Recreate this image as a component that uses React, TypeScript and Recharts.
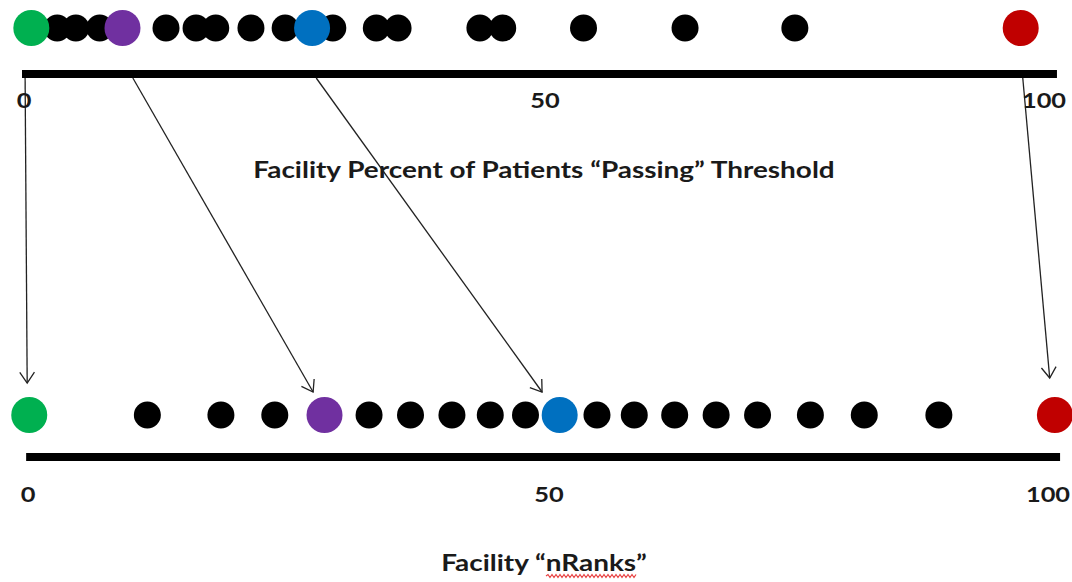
import { Cell, ReferenceLine, Scatter, ScatterChart, XAxis, YAxis } from "recharts";

// x positions of facilities, 0-100 scale
const TICKS = [0, 50, 100];

const PCT_OTHERS = [3.4, 5.2, 7.5, 13.9, 16.8, 18.7, 22.1, 25.4, 30.0, 34.2, 36.3, 44.2, 46.4, 54.2, 64.0, 74.6];
const RANK_OTHERS = [12.1, 19.2, 24.4, 33.5, 37.5, 41.5, 45.2, 48.6, 55.5, 59.1, 63.0, 67.0, 71.0, 76.1, 81.3, 88.5];

// the four tracked facilities
const TRACKED_PCT = [0.9, 9.7, 28.0, 96.4];
const TRACKED_RANK = [0.7, 29.2, 51.9, 99.7];
const ARROW_FROM = [0.3, 10.7, 28.4, 96.6];
const ARROW_TO = [0.5, 28.1, 50.2, 99.2];

const TRACKED_COLORS = ["#00b050", "#7030a0", "#0070c0", "#c00000"];

// layout (y in px from top, via a reversed hidden axis)
const W = 1072;
const H = 582;
const TOP = { dots: 28, axis: 74, ticks: 108, title: 178 };
const BOTTOM = { dots: 415, axis: 457, ticks: 502, title: 571 };
const ARROW_START_Y = 78;
const ARROW_TIP_Y = [383, 392, 392, 378];
const TICK_DX = { top: [2, 5, -14], bottom: [6, 9, -10] };

const FONT = "Lato, 'Open Sans', sans-serif";
const STRETCH = 1.27; // the source text is a bit wide

const row = (xs: number[], y: number) => xs.map((x) => ({ x, y }));

function WideText({ x, y, size, children }: { x: number; y: number; size: number; children: any }) {
  return (
    <text
      transform={`translate(${x},${y}) scale(${STRETCH},1)`}
      textAnchor="middle"
      fontFamily={FONT}
      fontWeight={700}
      fontSize={size}
      fill="#1a1a1a"
    >
      {children}
    </text>
  );
}

function Dot(r: number) {
  return (p: any) => <circle cx={p.cx} cy={p.cy} r={r} fill={p.fill} />;
}

function TickText(dx: number[]) {
  return (p: any) => (
    <WideText x={p.cx + dx[TICKS.indexOf(p.payload.x)]} y={p.cy} size={20}>
      {p.payload.x}
    </WideText>
  );
}

function Arrow(p: any) {
  const { x1, y1, x2, y2 } = p;
  const a = Math.atan2(y2 - y1, x2 - x1);
  const len = 13;
  const spread = 0.6;
  const hx1 = x2 - len * Math.cos(a - spread);
  const hy1 = y2 - len * Math.sin(a - spread);
  const hx2 = x2 - len * Math.cos(a + spread);
  const hy2 = y2 - len * Math.sin(a + spread);
  return (
    <g stroke="#222" strokeWidth={1.3} fill="none">
      <line x1={x1} y1={y1} x2={x2} y2={y2} />
      <polyline points={`${hx1},${hy1} ${x2},${y2} ${hx2},${hy2}`} />
    </g>
  );
}

// spell-check squiggle under "nRanks"
function squiggle(x0: number, x1: number, y: number) {
  let d = `M${x0},${y}`;
  for (let x = x0, up = true; x < x1; x += 2, up = !up) d += ` L${x + 2},${y + (up ? -1.5 : 1.5)}`;
  return d;
}

export default function App() {
  return (
    <div style={{ position: "absolute", left: 0, top: 0, width: W, height: H, background: "#fff" }}>
      <ScatterChart width={W} height={H} margin={{ top: 0, right: 14, bottom: 0, left: 22 }}>
        <XAxis type="number" dataKey="x" domain={[0, 100]} hide />
        <YAxis type="number" dataKey="y" domain={[0, H]} reversed hide />

        <ReferenceLine
          segment={[{ x: 0, y: TOP.axis }, { x: 99.9, y: TOP.axis }]}
          stroke="#000"
          strokeWidth={8}
          ifOverflow="visible"
        />
        <ReferenceLine
          segment={[{ x: 0.4, y: BOTTOM.axis }, { x: 100.2, y: BOTTOM.axis }]}
          stroke="#000"
          strokeWidth={8}
          ifOverflow="visible"
        />

        <Scatter data={row(PCT_OTHERS, TOP.dots)} fill="#000" shape={Dot(13.5)} isAnimationActive={false} />
        <Scatter data={row(RANK_OTHERS, BOTTOM.dots)} fill="#000" shape={Dot(13.5)} isAnimationActive={false} />
        <Scatter data={row(TRACKED_PCT, TOP.dots)} shape={Dot(18)} isAnimationActive={false}>
          {TRACKED_PCT.map((_, i) => (
            <Cell key={i} fill={TRACKED_COLORS[i]} />
          ))}
        </Scatter>
        <Scatter data={row(TRACKED_RANK, BOTTOM.dots)} shape={Dot(18)} isAnimationActive={false}>
          {TRACKED_RANK.map((_, i) => (
            <Cell key={i} fill={TRACKED_COLORS[i]} />
          ))}
        </Scatter>

        <Scatter data={row(TICKS, TOP.ticks)} shape={TickText(TICK_DX.top)} isAnimationActive={false} />
        <Scatter data={row(TICKS, BOTTOM.ticks)} shape={TickText(TICK_DX.bottom)} isAnimationActive={false} />

        {ARROW_FROM.map((from, i) => (
          <ReferenceLine
            key={i}
            segment={[{ x: from, y: ARROW_START_Y }, { x: ARROW_TO[i], y: ARROW_TIP_Y[i] }]}
            shape={Arrow}
            ifOverflow="visible"
          />
        ))}

        <WideText x={544} y={TOP.title} size={22}>
          Facility Percent of Patients “Passing” Threshold
        </WideText>
        <WideText x={544} y={BOTTOM.title} size={22}>
          Facility “nRanks”
        </WideText>
        <path d={squiggle(546, 636, BOTTOM.title + 5)} stroke="#e84040" strokeWidth={1.2} fill="none" />
      </ScatterChart>
    </div>
  );
}
